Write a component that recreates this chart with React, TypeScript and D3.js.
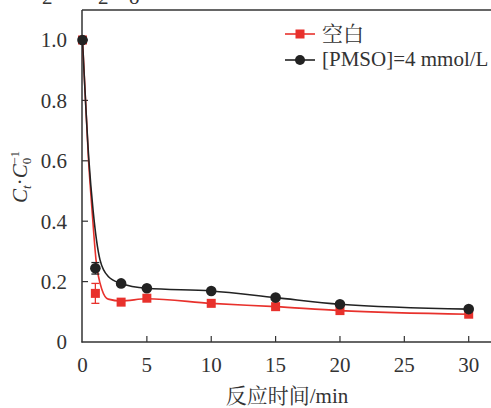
import React from "react";
import * as d3 from "d3";

const xTicks = [0, 5, 10, 15, 20, 25, 30];
const yTicks = [0, 0.2, 0.4, 0.6, 0.8, 1.0];
const yTickLabels = ["0", "0.2", "0.4", "0.6", "0.8", "1.0"];

// measured points
const timeBlank = [0, 1, 3, 5, 10, 15, 20, 30];
const valBlank = [1.0, 0.161, 0.132, 0.145, 0.128, 0.117, 0.104, 0.092];
const errBlank = [0, 0.033, 0, 0, 0, 0, 0, 0];

const timePmso = [0, 1, 3, 5, 10, 15, 20, 30];
const valPmso = [1.0, 0.244, 0.194, 0.178, 0.169, 0.147, 0.125, 0.109];
const errPmso = [0, 0.019, 0, 0, 0, 0, 0, 0];

// fitted curves
const fitBlankT = [0, 0.47, 0.74, 1.05, 1.5, 2, 3, 5, 10, 15, 20, 30];
const fitBlankV = [1.0, 0.6, 0.437, 0.272, 0.175, 0.142, 0.136, 0.143, 0.128, 0.117, 0.104, 0.092];
const fitPmsoT = [0, 0.5, 0.82, 1.36, 2, 3, 5, 10, 15, 20, 30];
const fitPmsoV = [1.0, 0.6, 0.437, 0.272, 0.217, 0.194, 0.178, 0.169, 0.147, 0.125, 0.109];

const seriesNames = ["空白", "[PMSO]=4 mmol/L"];
const RED = "#e8312c";
const BLACK = "#222222";
const AXIS = "#333333";
const FONT = "'Liberation Serif', 'Noto Serif CJK SC', 'Noto Sans CJK SC', serif";
const ts: React.CSSProperties = { fontFamily: FONT };
const FS = 21;

export default function App() {
  const x = d3.scaleLinear().domain([0, 30]).range([82.5, 468.7]);
  const y = d3.scaleLinear().domain([0, 1]).range([342, 40]);
  const line = d3
    .line<[number, number]>()
    .x((d) => x(d[0]))
    .y((d) => y(d[1]))
    .curve(d3.curveMonotoneX);

  const blankFit = line(fitBlankT.map((t, i) => [t, fitBlankV[i]]) as [number, number][]);
  const pmsoFit = line(fitPmsoT.map((t, i) => [t, fitPmsoV[i]]) as [number, number][]);

  return (
    <svg
      width={491}
      height={408}
      style={{ position: "absolute", left: 0, top: 0, background: "#fff", fontFamily: FONT }}
    >
      {/* cut-off caption fragments at top */}
      <g fontSize={FS} fill="#333" style={ts}>
        <text x={42} y={4} style={ts}>2</text>
        <text x={55} y={4} style={ts}>·</text>
        <text x={98} y={4} style={ts}>2</text>
        <text x={129} y={4} style={ts}>o</text>
      </g>

      {/* frame */}
      <line x1={82} y1={10} x2={491} y2={10} stroke={AXIS} strokeWidth={1.5} />
      <line x1={82} y1={10} x2={82} y2={342.5} stroke={AXIS} strokeWidth={1.5} />
      <line x1={81.5} y1={342} x2={491} y2={342} stroke={AXIS} strokeWidth={1.5} />

      {/* x ticks */}
      {xTicks.map((t) => (
        <g key={"xt" + t}>
          {t !== 0 && (
            <line x1={x(t)} x2={x(t)} y1={342} y2={336} stroke={AXIS} strokeWidth={1.2} />
          )}
          <text x={x(t)} y={372} textAnchor="middle" fontSize={FS} fill="#333" style={ts}>
            {t}
          </text>
        </g>
      ))}
      {/* y ticks */}
      {yTicks.map((v, i) => (
        <g key={"yt" + v}>
          {v !== 0 && (
            <line x1={82} x2={88} y1={y(v)} y2={y(v)} stroke={AXIS} strokeWidth={1.2} />
          )}
          <text x={67} y={y(v)} dy="0.35em" textAnchor="end" fontSize={FS} fill="#333" style={ts}>
            {yTickLabels[i]}
          </text>
        </g>
      ))}

      {/* axis titles */}
      <text x={287} y={403} textAnchor="middle" fontSize={FS} fill="#333" style={ts}>
        反应时间/min
      </text>
      <text
        transform="translate(27,177) rotate(-90)"
        textAnchor="middle"
        fontSize={FS}
        fill="#333"
        style={ts}
      >
        <tspan fontStyle="italic">C</tspan>
        <tspan fontStyle="italic" fontSize={13} dy={4}>t</tspan>
        <tspan dy={-4}>·</tspan>
        <tspan fontStyle="italic">C</tspan>
        <tspan fontSize={13} dy={4}>0</tspan>
        <tspan fontSize={13} dx={-7} dy={-12}>−1</tspan>
      </text>

      {/* fitted curves */}
      <path d={blankFit || ""} fill="none" stroke={RED} strokeWidth={1.6} />
      <path d={pmsoFit || ""} fill="none" stroke={BLACK} strokeWidth={1.6} />

      {/* error bars */}
      {timeBlank.map((t, i) =>
        errBlank[i] > 0 ? (
          <g key={"eb" + i} stroke={RED} strokeWidth={1.3}>
            <line x1={x(t)} x2={x(t)} y1={y(valBlank[i] - errBlank[i])} y2={y(valBlank[i] + errBlank[i])} />
            <line x1={x(t) - 4} x2={x(t) + 4} y1={y(valBlank[i] - errBlank[i])} y2={y(valBlank[i] - errBlank[i])} />
            <line x1={x(t) - 4} x2={x(t) + 4} y1={y(valBlank[i] + errBlank[i])} y2={y(valBlank[i] + errBlank[i])} />
          </g>
        ) : null
      )}
      {timePmso.map((t, i) =>
        errPmso[i] > 0 ? (
          <g key={"ep" + i} stroke={BLACK} strokeWidth={1.3}>
            <line x1={x(t)} x2={x(t)} y1={y(valPmso[i] - errPmso[i])} y2={y(valPmso[i] + errPmso[i])} />
            <line x1={x(t) - 4} x2={x(t) + 4} y1={y(valPmso[i] - errPmso[i])} y2={y(valPmso[i] - errPmso[i])} />
            <line x1={x(t) - 4} x2={x(t) + 4} y1={y(valPmso[i] + errPmso[i])} y2={y(valPmso[i] + errPmso[i])} />
          </g>
        ) : null
      )}

      {/* markers */}
      {timeBlank.map((t, i) => (
        <rect key={"mb" + i} x={x(t) - 4.5} y={y(valBlank[i]) - 4.5} width={9} height={9} fill={RED} />
      ))}
      {timePmso.map((t, i) => (
        <circle key={"mp" + i} cx={x(t)} cy={y(valPmso[i])} r={5.3} fill={BLACK} />
      ))}

      {/* legend */}
      <g>
        <line x1={285} x2={315} y1={34} y2={34} stroke={RED} strokeWidth={1.6} />
        <rect x={295.5} y={29.5} width={9} height={9} fill={RED} />
        <text x={322} y={41} fontSize={FS} fill="#333" style={ts}>{seriesNames[0]}</text>
        <line x1={285} x2={315} y1={60} y2={60} stroke={BLACK} strokeWidth={1.6} />
        <circle cx={300} cy={60} r={5} fill={BLACK} />
        <text x={322} y={66} fontSize={FS} fill="#333" style={ts}>{seriesNames[1]}</text>
      </g>
    </svg>
  );
}
